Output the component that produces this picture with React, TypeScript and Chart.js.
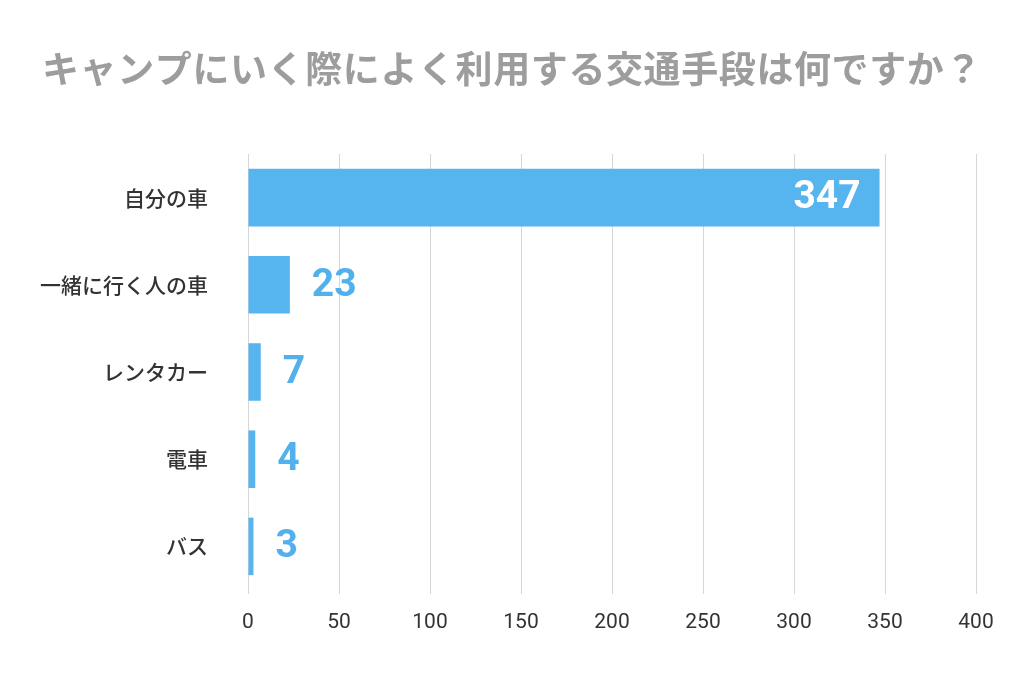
import React, { useEffect, useRef } from "react";
import { Chart, registerables } from "chart.js";

Chart.register(...registerables);

const titleText = "キャンプにいく際によく利用する交通手段は何ですか？";
const categories = ["自分の車", "一緒に行く人の車", "レンタカー", "電車", "バス"];
const counts = [347, 23, 7, 4, 3];
const xTicks = [0, 50, 100, 150, 200, 250, 300, 350, 400];

const BAR_COLOR = "#56b4ef";
const LABEL_BLUE = "#52b0ec";

const titlePlugin = {
  id: "centeredTitle",
  afterDraw(chart: any) {
    const ctx = chart.ctx;
    ctx.save();
    ctx.font = "bold 37px 'Noto Sans CJK JP', sans-serif";
    ctx.fillStyle = "#9d9d9d";
    ctx.textAlign = "center";
    ctx.textBaseline = "middle";
    (ctx as any).letterSpacing = "0.6px";
    ctx.fillText(titleText, 512, 69);
    ctx.restore();
  },
};

const valueLabels = {
  id: "valueLabels",
  afterDatasetsDraw(chart: any) {
    const ctx = chart.ctx;
    const meta = chart.getDatasetMeta(0);
    ctx.save();
    ctx.font = "bold 39px Roboto, 'DejaVu Sans', sans-serif";
    ctx.textBaseline = "middle";
    meta.data.forEach((bar: any, i: number) => {
      const v = counts[i];
      if (v > 100) {
        ctx.fillStyle = "#ffffff";
        ctx.textAlign = "right";
        ctx.fillText(String(v), bar.x - 19, bar.y + 1);
      } else {
        ctx.fillStyle = LABEL_BLUE;
        ctx.textAlign = "left";
        ctx.fillText(String(v), bar.x + 22, bar.y + 1);
      }
    });
    ctx.restore();
  },
};

export default function App() {
  const ref = useRef<HTMLCanvasElement | null>(null);
  useEffect(() => {
    if (!ref.current) return;
    const chart = new Chart(ref.current, {
      type: "bar",
      data: {
        labels: categories,
        datasets: [
          {
            data: counts,
            backgroundColor: BAR_COLOR,
            borderWidth: 0,
            barPercentage: 0.66,
            categoryPercentage: 1,
          },
        ],
      },
      options: {
        indexAxis: "y",
        animation: false,
        responsive: false,
        maintainAspectRatio: false,
        layout: { padding: { left: 0, right: 48, top: 154, bottom: 0 } },
        plugins: {
          legend: { display: false },
          tooltip: { enabled: false },
          title: { display: false },
        },
        scales: {
          x: {
            position: "bottom",
            min: 0,
            max: 400,
            afterBuildTicks: (scale: any) => {
              scale.ticks = xTicks.map((v) => ({ value: v }));
            },
            afterFit: (scale: any) => {
              scale.height = 101;
            },
            grid: { color: "#d6d6d6", lineWidth: 1, drawTicks: true, tickLength: 4 },
            border: { display: false },
            ticks: {
              color: "#333333",
              padding: 16,
              font: { family: "Roboto, 'DejaVu Sans', sans-serif", size: 21 },
            },
          },
          y: {
            afterFit: (scale: any) => {
              scale.width = 248;
            },
            grid: { display: false, drawTicks: false },
            border: { display: false },
            ticks: {
              color: "#333333",
              padding: 40,
              font: { family: "'Noto Sans CJK JP', sans-serif", size: 21, weight: 500 },
            },
          },
        },
      },
      plugins: [valueLabels, titlePlugin],
    });
    return () => chart.destroy();
  }, []);
  return (
    <div style={{ position: "fixed", left: 0, top: 0, width: 1024, height: 691, background: "#fff" }}>
      <canvas ref={ref} width={1024} height={691} style={{ width: 1024, height: 691 }} />
    </div>
  );
}
